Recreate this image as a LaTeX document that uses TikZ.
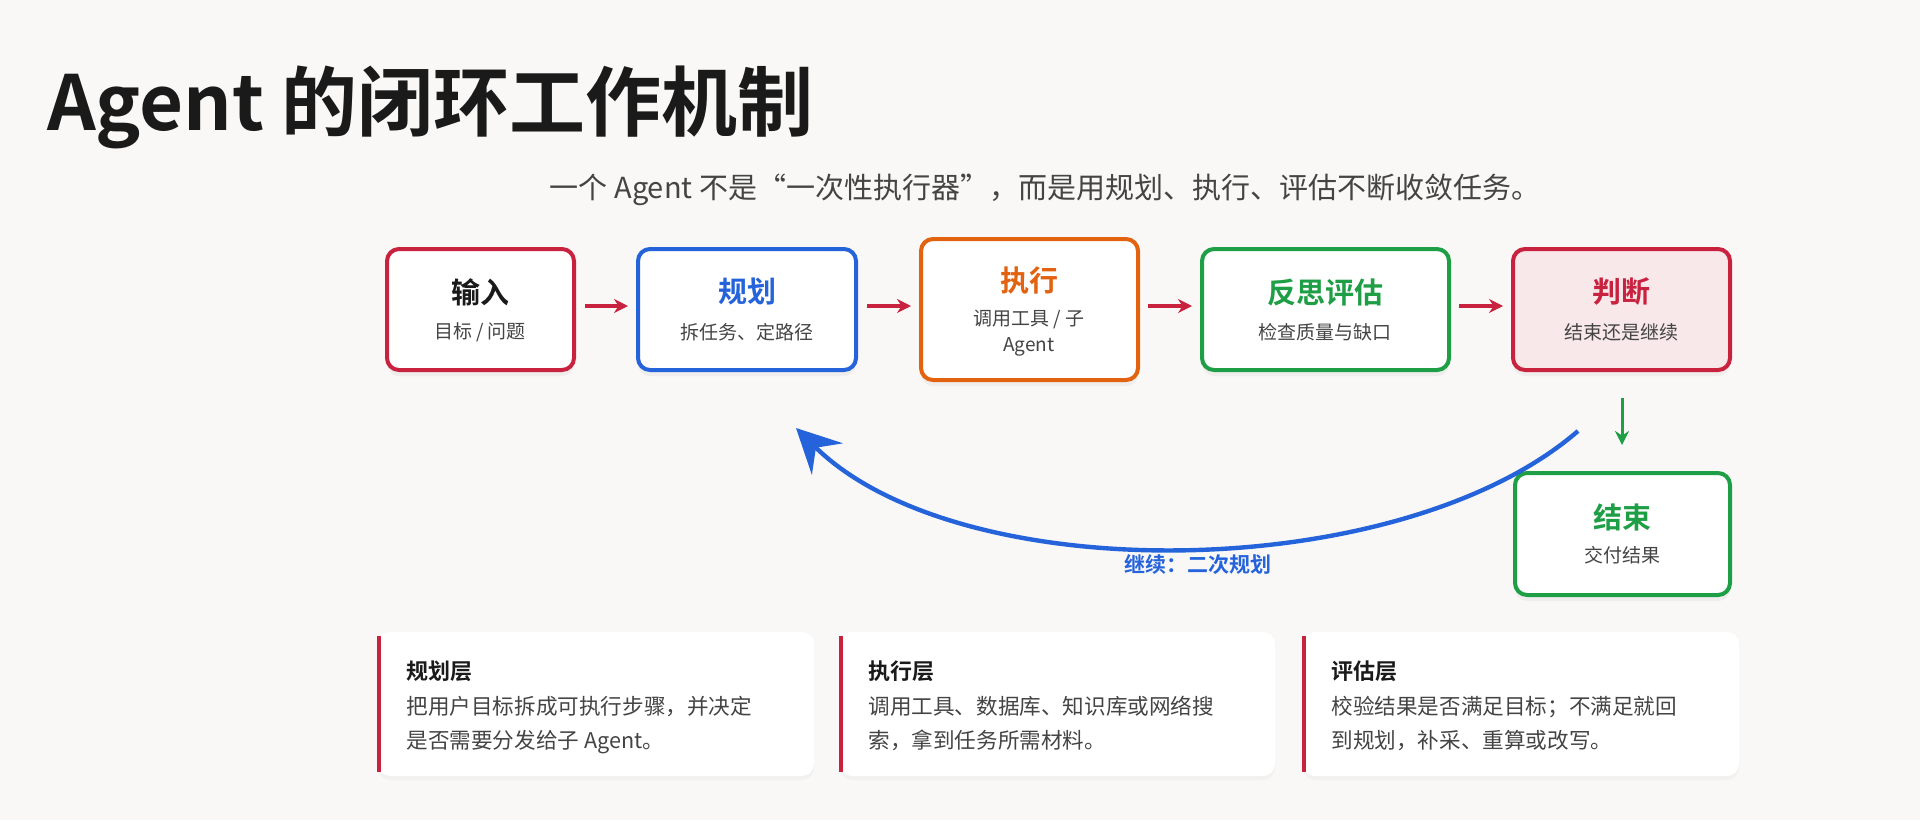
\documentclass[tikz,border=0pt]{standalone}
\usepackage{fontspec}
\setmainfont{Noto Sans CJK SC}
\newfontfamily\cjkb{Noto Sans CJK SC Bold}
\usetikzlibrary{arrows.meta,shadows}
\definecolor{bg}{HTML}{F9F8F6}
\definecolor{cred}{HTML}{C8223F}
\definecolor{cblue}{HTML}{2563DB}
\definecolor{corange}{HTML}{E2620F}
\definecolor{cgreen}{HTML}{1E9E45}
\definecolor{cpink}{HTML}{F8E8EA}
\definecolor{ctext}{HTML}{444444}
\definecolor{cblack}{HTML}{1A1A1A}
\begin{document}
\begin{tikzpicture}[x=0.5pt,y=-0.5pt,
  stepbox/.style={draw=#1,line width=2pt,rounded corners=6pt,fill=white,inner sep=0pt,
    drop shadow={shadow xshift=0pt,shadow yshift=-3pt,opacity=0.08}},
  flow/.style={-{Stealth[length=7pt,width=7pt]},line width=1.6pt,draw=cred},
  card/.style={fill=white,rounded corners=6pt,draw=none,
    drop shadow={shadow xshift=0pt,shadow yshift=-2pt,opacity=0.05}},
  btitle/.style={font=\cjkb\fontsize{14.5pt}{17pt}\selectfont},
  bsub/.style={font=\fontsize{9.5pt}{13pt}\selectfont,text=ctext,align=center}]
\fill[bg] (0,0) rectangle (1920,820);
\useasboundingbox (0,0) rectangle (1920,820);
\node[anchor=base west,font=\cjkb\fontsize{38pt}{44pt}\selectfont,text=cblack] (title) at (40,130) {Agent 的闭环工作机制};
\node[font=\fontsize{14.5pt}{18pt}\selectfont,text=ctext] (subt) at (1045,190) {一个 Agent 不是“一次性执行器”，而是用规划、执行、评估不断收敛任务。};
% boxes
\newcommand\mkbox[8]{%
 \filldraw[stepbox=#2,fill=#8] (#3,#4) rectangle (#5,#6);
 \node[inner sep=0pt,minimum width=0pt] (#1) at ({(#3+#5)/2},{(#4+#6)/2}) {};
}
\mkbox{in}{cred}{387}{249}{574}{370}{输入}{white}
\node[btitle,text=cblack] at (480,292) {输入};
\node[bsub] at (480,332) {目标 / 问题};
\mkbox{pl}{cblue}{638}{249}{856}{370}{规划}{white}
\node[btitle,text=cblue] at (747,292) {规划};
\node[bsub] at (747,332) {拆任务、定路径};
\filldraw[stepbox=corange] (921,239) rectangle (1138,380);
\node (ex) at (1029,310) {};
\node[btitle,text=corange] at (1029,281) {执行};
\node[bsub] at (1029,333) {调用工具 / 子\\Agent};
\mkbox{ev}{cgreen}{1202}{249}{1449}{370}{反思评估}{white}
\node[btitle,text=cgreen] at (1325,292) {反思评估};
\node[bsub] at (1325,332) {检查质量与缺口};
\mkbox{ju}{cred}{1513}{249}{1730}{370}{判断}{cpink}
\node[btitle,text=cred] at (1621,292) {判断};
\node[bsub] at (1621,332) {结束还是继续};
\mkbox{en}{cgreen}{1515}{473}{1730}{595}{结束}{white}
\node[btitle,text=cgreen] at (1622,517) {结束};
\node[bsub] at (1622,555) {交付结果};
% flow arrows
\coordinate (a1) at (585,306); \coordinate (b1) at (628,306);
\coordinate (a2) at (867,306); \coordinate (b2) at (911,306);
\coordinate (a3) at (1148,306); \coordinate (b3) at (1192,306);
\coordinate (a4) at (1459,306); \coordinate (b4) at (1503,306);
\draw[flow] (a1) -- (b1);
\draw[flow] (a2) -- (b2);
\draw[flow] (a3) -- (b3);
\draw[flow] (a4) -- (b4);
\coordinate (d1) at (1622,398); \coordinate (d2) at (1622,445);
\draw[-{Stealth[length=7pt,width=7pt]},line width=1.5pt,cgreen] (d1) -- (d2);
% loop arc
\coordinate (l1) at (1578,431); \coordinate (l2) at (796,428);
\draw[cblue,line width=2.2pt,-{Stealth[length=22pt,width=22pt,inset=8pt]}] (l1) .. controls (1400,585) and (960,590) .. (l2);
\node[font=\cjkb\fontsize{10.5pt}{12pt}\selectfont,text=cblue] (lab) at (1198,565) {继续：二次规划};
% cards
\newcommand\mkcard[5]{%
 \path[card] (#2,632) rectangle (#3,776);
 \draw[cred,line width=1.8pt] (#2+1,636) -- (#2+1,772);
 \node[anchor=base west,inner sep=0pt,font=\cjkb\fontsize{11pt}{13pt}\selectfont,text=cblack] (#1) at (#2+28,679) {#4};
 \node[anchor=north west,align=left,font=\fontsize{10.8pt}{17pt}\selectfont,text=ctext,inner sep=0pt] at (#2+28,696) {#5};
}
\mkcard{c1}{378}{814}{规划层}{把用户目标拆成可执行步骤，并决定\\是否需要分发给子 Agent。}
\mkcard{c2}{840}{1275}{执行层}{调用工具、数据库、知识库或网络搜\\索，拿到任务所需材料。}
\mkcard{c3}{1303}{1739}{评估层}{校验结果是否满足目标；不满足就回\\到规划，补采、重算或改写。}
\end{tikzpicture}
\end{document}
